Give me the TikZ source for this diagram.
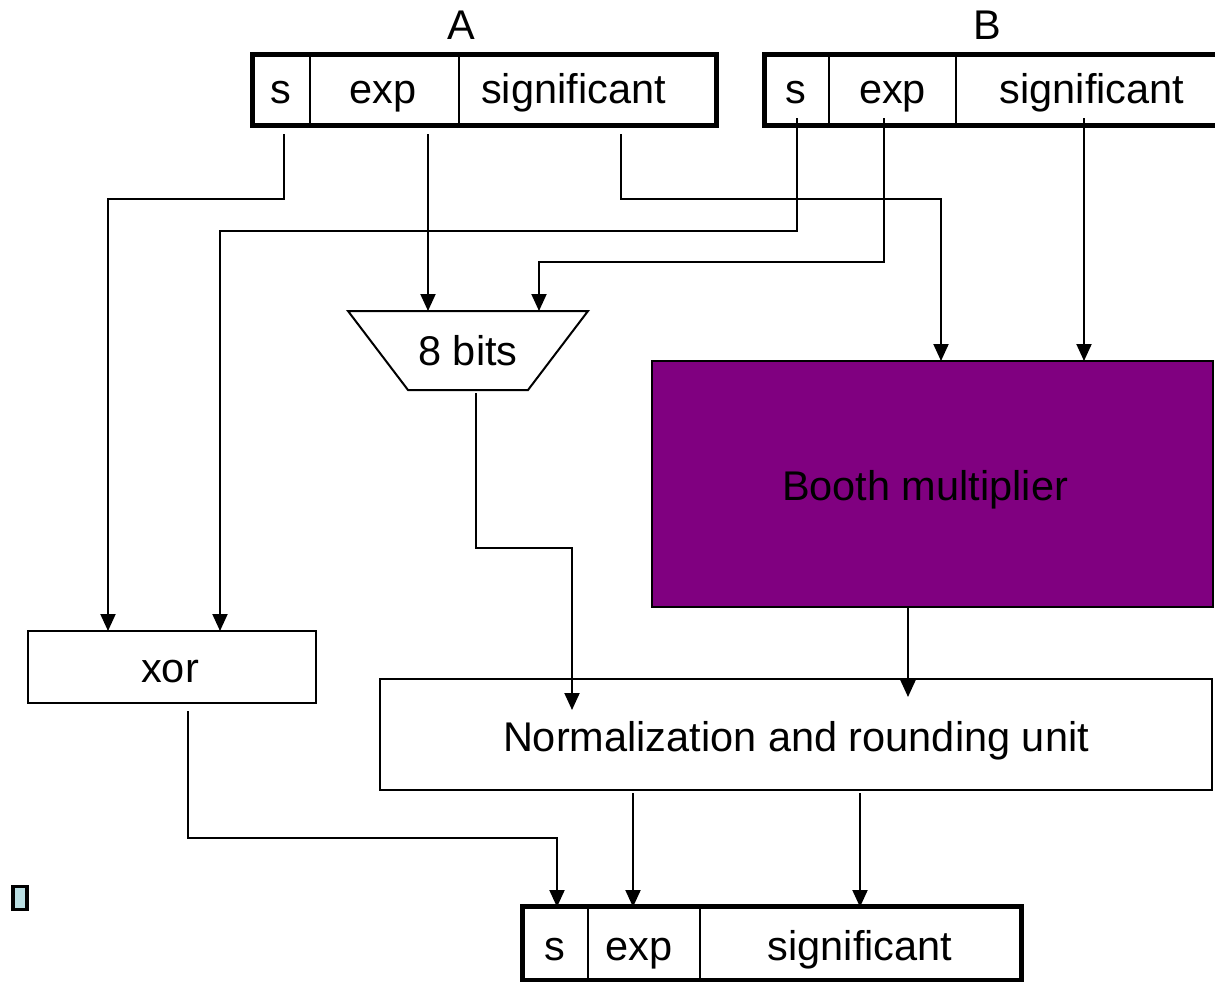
\documentclass[tikz,border=0pt]{standalone}
\usepackage{fontspec}
\setmainfont{Liberation Sans}
\usetikzlibrary{arrows.meta}
\definecolor{boothfill}{RGB}{128,0,128}
\definecolor{smallfill}{RGB}{185,222,226}
\begin{document}
\begin{tikzpicture}[x=1pt,y=-1pt,
  font=\fontsize{41.5}{50}\selectfont,
  wire/.style={line width=2pt},
  arr/.style={wire,-{Triangle[length=17pt,width=15pt]}},
  cell/.style={draw,line width=1.5pt,minimum height=70pt,inner sep=0pt},
  regframe/.style={line width=5pt},
  lbl/.style={anchor=base,inner sep=0pt},
  blockbox/.style={draw,line width=2pt,inner sep=0pt}]
\path[use as bounding box, clip] (0,0) rectangle (1215,982);

% ---- register A ----
\node[cell,minimum width=57pt]  (As)   at (281.5,90) {};
\node[cell,minimum width=149pt] (Aexp) at (384.5,90) {};
\node[cell,minimum width=257pt] (Asig) at (587.5,90) {};
\draw[regframe] (As.north west) rectangle (Asig.south east);
\node[lbl] (AsT)   at (281,103) {s};
\node[lbl] (AexpT) at (383,103) {exp};
\node[lbl] (AsigT) at (573.5,103) {significant};
\node[lbl] (Alab)  at (461,40) {A};

% ---- register B ----
\node[cell,minimum width=64pt]  (Bs)   at (797,90) {};
\node[cell,minimum width=127pt] (Bexp) at (892.5,90) {};
\node[cell,minimum width=274pt] (Bsig) at (1093,90) {};
\draw[regframe] (Bs.north west) rectangle (Bsig.south east);
\node[lbl] (BsT)   at (796,103) {s};
\node[lbl] (BexpT) at (892.5,103) {exp};
\node[lbl] (BsigT) at (1092,103) {significant};
\node[lbl] (Blab)  at (987,40) {B};

% ---- result register ----
\node[cell,minimum width=65pt,minimum height=73pt]  (Rs)   at (555.5,943.5) {};
\node[cell,minimum width=112pt,minimum height=73pt] (Rexp) at (644,943.5) {};
\node[cell,minimum width=321pt,minimum height=73pt] (Rsig) at (860.5,943.5) {};
\draw[regframe] (Rs.north west) rectangle (Rsig.south east);
\node[lbl] (RsT)   at (554.5,960) {s};
\node[lbl] (RexpT) at (639,960) {exp};
\node[lbl] (RsigT) at (860,960) {significant};

% ---- 8 bits trapezoid ----
\coordinate (trTL) at (348,311);
\coordinate (trTR) at (588,311);
\coordinate (trBR) at (528,390);
\coordinate (trBL) at (408,390);
\draw[wire] (trTL) -- (trTR) -- (trBR) -- (trBL) -- cycle;
\node[lbl] (bits) at (468,365) {8 bits};

% ---- blocks ----
\node[blockbox,fill=boothfill,minimum width=561pt,minimum height=246pt] (booth) at (932.5,484) {};
\node[lbl] (boothT) at (925,500) {Booth multiplier};
\node[blockbox,minimum width=288pt,minimum height=72pt] (xor) at (172,667) {};
\node[lbl] (xorT) at (170,682) {xor};
\node[blockbox,minimum width=832pt,minimum height=111pt] (norm) at (796,734.5) {};
\node[lbl] (normT) at (796,751) {Normalization and rounding unit};

\node[draw,line width=3.5pt,fill=smallfill,minimum width=14pt,minimum height=23pt,inner sep=0pt] (mark) at (20,898) {};

% ---- connector coordinates ----
\coordinate (aS)   at (284,134);
\coordinate (aE)   at (428,134);
\coordinate (aG)   at (621,134);
\coordinate (bS)   at (797,118);
\coordinate (bE)   at (884,118);
\coordinate (bG)   at (1084,118);
\coordinate (aSb)  at (108,199);
\coordinate (aGb)  at (941,199);
\coordinate (bSb)  at (220,231);
\coordinate (bEb)  at (539,262);
\coordinate (xIn1) at (108,631);
\coordinate (xIn2) at (220,631);
\coordinate (tIn1) at (428,311);
\coordinate (tIn2) at (539,311);
\coordinate (mIn1) at (941,361);
\coordinate (mIn2) at (1084,361);
\coordinate (tOut) at (476,393);
\coordinate (tOb)  at (572,548);
\coordinate (nIn1) at (572,710);
\coordinate (mOut) at (908,607);
\coordinate (nIn2) at (908,697);
\coordinate (xOut) at (188,711);
\coordinate (xOb)  at (557,838);
\coordinate (rIn1) at (557,907);
\coordinate (nOut1) at (633,793);
\coordinate (nOut2) at (860,793);
\coordinate (rIn2) at (633,907);
\coordinate (rIn3) at (860,907);

% ---- connectors ----
\draw[arr] (aS) |- (aSb) -- (xIn1);
\draw[arr] (bS) |- (bSb) -- (xIn2);
\draw[arr] (aE) -- (tIn1);
\draw[arr] (bE) |- (bEb) -- (tIn2);
\draw[arr] (aG) |- (aGb) -- (mIn1);
\draw[arr] (bG) -- (mIn2);
\draw[arr] (tOut) |- (tOb) -- (nIn1);
\draw[arr] (mOut) -- (nIn2);
\draw[arr] (xOut) |- (xOb) -- (rIn1);
\draw[arr] (nOut1) -- (rIn2);
\draw[arr] (nOut2) -- (rIn3);
\end{tikzpicture}
\end{document}
